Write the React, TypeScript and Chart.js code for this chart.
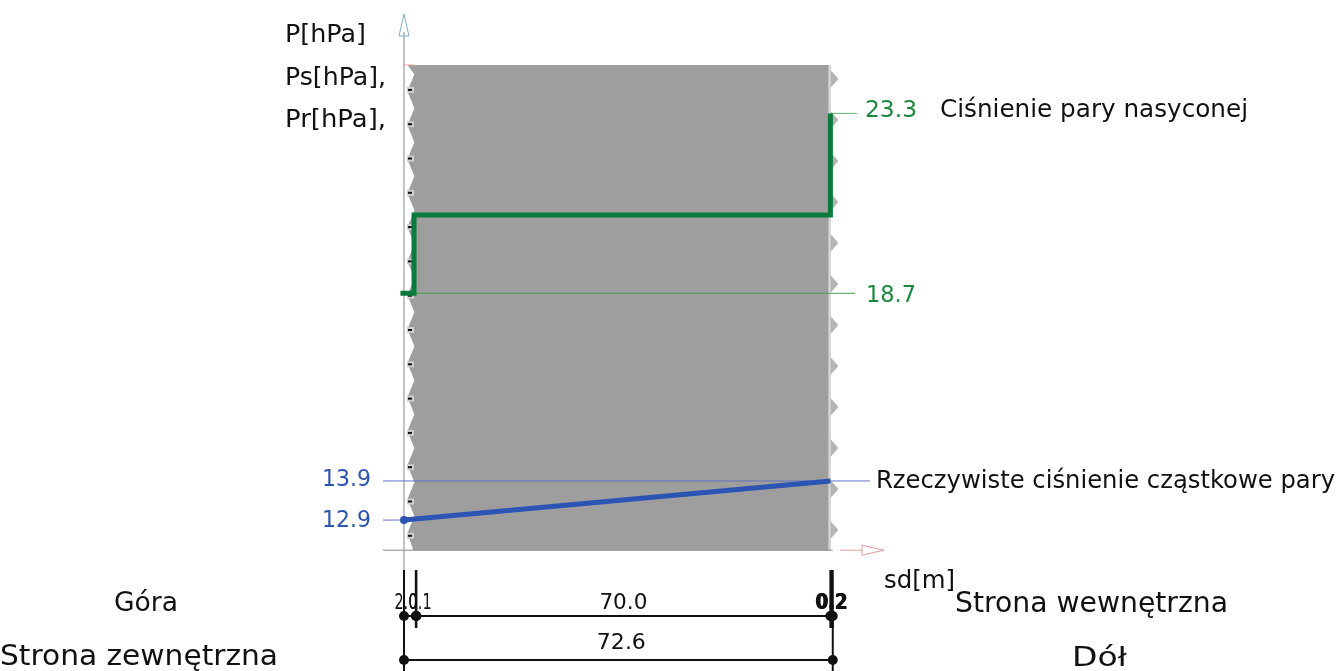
import React, { useEffect, useRef } from "react";
import { Chart, registerables } from "chart.js";
Chart.register(...registerables);

// ---- data ----
const layerSd = [2.0, 0.1, 70.0, 0.2, 0.2];
const layerLabels = ["2.0", "0.1", "70.0", "0.2", "0.2"];
const totalLabel = "72.6";
const satX = [-0.6, 1.7, 1.7, 72.1, 72.1];
const satP = [18.7, 18.7, 20.7, 20.7, 23.3];
const actX = [0, 72.1];
const actP = [12.9, 13.9];
const satMin = 18.7;
const satMax = 23.3;
const actMin = 12.9;
const actMax = 13.9;
const axisTitles = ["P[hPa]", "Ps[hPa],", "Pr[hPa],"];
const wallTopP = 24.54;
const axisP = 12.13;

const FONT = '"DejaVu Sans", Verdana, sans-serif';
const GREEN = "#0b7b3b";
const GREEN_T = "#1b8a40";
const BLUE = "#2b54b3";
const BLUE_T = "#2d55b0";

function fitText(ctx: any, text: string, x: number, yBase: number, width: number, size: number, color: string, align = "left", bold = false) {
  ctx.save();
  ctx.font = `${bold ? "bold " : ""}${size}px ${FONT}`;
  ctx.fillStyle = color;
  ctx.textBaseline = "alphabetic";
  ctx.textAlign = "left";
  const w = ctx.measureText(text).width;
  const sx = width / w;
  const left = align === "left" ? x : align === "center" ? x - width / 2 : x - width;
  ctx.translate(left, yBase);
  ctx.scale(sx, 1);
  ctx.fillText(text, 0, 0);
  ctx.restore();
}

function line(ctx: any, x1: number, y1: number, x2: number, y2: number, color: string, w = 1) {
  ctx.save();
  ctx.strokeStyle = color;
  ctx.lineWidth = w;
  ctx.beginPath();
  ctx.moveTo(x1, y1);
  ctx.lineTo(x2, y2);
  ctx.stroke();
  ctx.restore();
}

const bounds = layerSd.reduce((acc: number[], v) => { acc.push(acc[acc.length - 1] + v); return acc; }, [0]);

const decoPlugin = {
  id: "deco",
  beforeDatasetsDraw(chart: any) {
    const { ctx } = chart;
    const xs = chart.scales.x, ys = chart.scales.y;
    const X = (v: number) => xs.getPixelForValue(v);
    const Y = (v: number) => ys.getPixelForValue(v);
    const top = Y(wallTopP), bot = Y(axisP);
    const wl = X(bounds[2]), wr = X(bounds[3]);
    const x0 = X(0);
    // wall body with left wavy edge
    ctx.save();
    ctx.fillStyle = "#9e9e9e";
    ctx.beginPath();
    ctx.moveTo(wl - 3, top);
    ctx.lineTo(wr, top);
    ctx.lineTo(wr, bot);
    ctx.lineTo(wl - 3, bot);
    let yy = bot;
    let k = 0;
    while (yy > top) {
      yy -= 17;
      ctx.lineTo(k % 2 === 0 ? wl - 9 : wl - 2, Math.max(yy, top));
      k++;
    }
    ctx.closePath();
    ctx.fill();
    // right zigzag
    ctx.fillStyle = "#b4b4b4";
    for (let y = top + 5; y < bot - 10; y += 41) {
      ctx.beginPath();
      ctx.moveTo(wr, y);
      ctx.lineTo(wr + 8, y + 9);
      ctx.lineTo(wr, y + 18);
      ctx.closePath();
      ctx.fill();
    }
    ctx.fillStyle = "#d6d6d6";
    ctx.fillRect(wr - 2, top, 2, bot - top);
    // dashes in the left strip
    for (let y = top + 25; y < bot; y += 34.3) {
      ctx.fillStyle = "#cfcfcf";
      ctx.fillRect(x0 + 3, y - 3, 7, 6);
      ctx.fillStyle = "#111";
      ctx.fillRect(x0 + 4, y - 1, 4, 2);
    }
    ctx.restore();
    // pink top border of left strip
    line(ctx, x0, top, wl - 2, top, "#f0b0a0", 1);
    // y axis
    line(ctx, x0, 32, x0, 671, "#7d8a95", 1);
    ctx.save();
    ctx.strokeStyle = "#7fb3c9";
    ctx.lineWidth = 1;
    ctx.beginPath();
    ctx.moveTo(x0, 14);
    ctx.lineTo(x0 - 5, 36);
    ctx.lineTo(x0 + 5, 36);
    ctx.closePath();
    ctx.stroke();
    ctx.restore();
    // x axis
    line(ctx, 383, bot, X(bounds[5]), bot, "#8a8a8a", 1);
    line(ctx, 840, bot, 862, bot, "#e39a9a", 1);
    ctx.save();
    ctx.strokeStyle = "#e39a9a";
    ctx.beginPath();
    ctx.moveTo(884, bot);
    ctx.lineTo(862, bot - 5);
    ctx.lineTo(862, bot + 5);
    ctx.closePath();
    ctx.stroke();
    ctx.restore();
    // thin reference lines
    line(ctx, x0, Y(satMin), 855, Y(satMin), "#3f9f55", 1);
    line(ctx, wr, Y(satMax), 857, Y(satMax), "#5fb070", 1);
    line(ctx, 383, Y(actMax), 870, Y(actMax), "#6673c2", 1);
    line(ctx, 383, Y(actMin), x0, Y(actMin), "#6673c2", 1);
  },
  afterDatasetsDraw(chart: any) {
    const { ctx } = chart;
    const xs = chart.scales.x, ys = chart.scales.y;
    const X = (v: number) => xs.getPixelForValue(v);
    const Y = (v: number) => ys.getPixelForValue(v);
    // axis titles
    fitText(ctx, axisTitles[0], 285, 42, 81, 24, "#111");
    fitText(ctx, axisTitles[1], 285, 85, 101, 24, "#111");
    fitText(ctx, axisTitles[2], 285, 127, 101, 24, "#111");
    // value labels
    fitText(ctx, satMax.toFixed(1), 865, Y(satMax) + 4, 52, 23, GREEN_T);
    fitText(ctx, "Ciśnienie pary nasyconej", 940, Y(satMax) + 4, 308, 24, "#111");
    fitText(ctx, satMin.toFixed(1), 866, Y(satMin) + 9, 50, 23, GREEN_T);
    fitText(ctx, actMax.toFixed(1), 371, Y(actMax) + 5, 49, 23, BLUE_T, "right");
    fitText(ctx, actMin.toFixed(1), 371, Y(actMin) + 7, 49, 23, BLUE_T, "right");
    fitText(ctx, "Rzeczywiste ciśnienie cząstkowe pary", 876, Y(actMax) + 7, 459, 24, "#111");
    fitText(ctx, "sd[m]", 884, 588, 71, 24, "#111");
    fitText(ctx, "Góra", 114, 611, 64, 26, "#111");
    fitText(ctx, "Strona zewnętrzna", 0, 665, 278, 28, "#111");
    fitText(ctx, "Strona wewnętrzna", 955, 612, 273, 28, "#111");
    fitText(ctx, "Dół", 1072, 666, 55, 27, "#111");
    // dimension lines
    const r1 = 616, r2 = 660;
    const xe = X(bounds[bounds.length - 1]);
    line(ctx, X(0), 570, X(0), 671, "#111", 2);
    for (let i = 1; i < bounds.length; i++) {
      line(ctx, X(bounds[i]), 570, X(bounds[i]), 628, "#111", 2);
    }
    line(ctx, X(0), r1, xe, r1, "#111", 2);
    line(ctx, X(0), r2, xe, r2, "#111", 2);
    line(ctx, xe, r1, xe, 671, "#111", 2);
    ctx.save();
    ctx.fillStyle = "#111";
    for (let i = 0; i < bounds.length; i++) {
      ctx.beginPath();
      ctx.arc(X(bounds[i]), r1, 5, 0, Math.PI * 2);
      ctx.fill();
    }
    [X(0), xe].forEach((px) => {
      ctx.beginPath();
      ctx.arc(px, r2, 5, 0, Math.PI * 2);
      ctx.fill();
    });
    ctx.restore();
    for (let i = 0; i < layerSd.length; i++) {
      const mid = X((bounds[i] + bounds[i + 1]) / 2);
      const small = layerSd[i] < 5;
      const edge = i >= 3;
      fitText(ctx, layerLabels[i], mid + (i === 0 ? -4 : i === 1 ? 4 : 0), 609, small ? (edge ? 32 : 23) : 48, 22, "#111", "center", edge);
    }
    fitText(ctx, totalLabel, (X(0) + xe) / 2 + 3, 649, 49, 22, "#111", "center");
  },
};

export default function App() {
  const ref = useRef<HTMLCanvasElement | null>(null);
  useEffect(() => {
    document.body.style.margin = "0";
    const canvas = ref.current!;
    const chart = new Chart(canvas, {
      type: "scatter",
      data: {
        datasets: [
          {
            label: "Ps",
            data: satX.map((x, i) => ({ x, y: satP[i] })),
            showLine: true,
            borderColor: GREEN,
            borderWidth: 5,
            pointRadius: 0,
            borderJoinStyle: "miter",
            clip: false,
          } as any,
          {
            label: "Pr",
            data: actX.map((x, i) => ({ x, y: actP[i] })),
            showLine: true,
            borderColor: BLUE,
            borderWidth: 5,
            pointRadius: [4, 0],
            pointBackgroundColor: BLUE,
            pointBorderWidth: 0,
            clip: false,
          } as any,
        ],
      },
      options: {
        responsive: false,
        devicePixelRatio: 1,
        animation: false,
        layout: { padding: 0, autoPadding: false },
        plugins: { legend: { display: false }, tooltip: { enabled: false } },
        scales: {
          x: { type: "linear", min: -68.31, max: 158.1, display: false },
          y: { type: "linear", min: 9.04, max: 26.2, display: false },
        },
      } as any,
      plugins: [decoPlugin],
    });
    return () => chart.destroy();
  }, []);
  return (
    <div style={{ position: "absolute", left: 0, top: 0, width: 1339, height: 671, background: "#fff" }}>
      <canvas ref={ref} width={1339} height={671} style={{ display: "block" }} />
    </div>
  );
}
